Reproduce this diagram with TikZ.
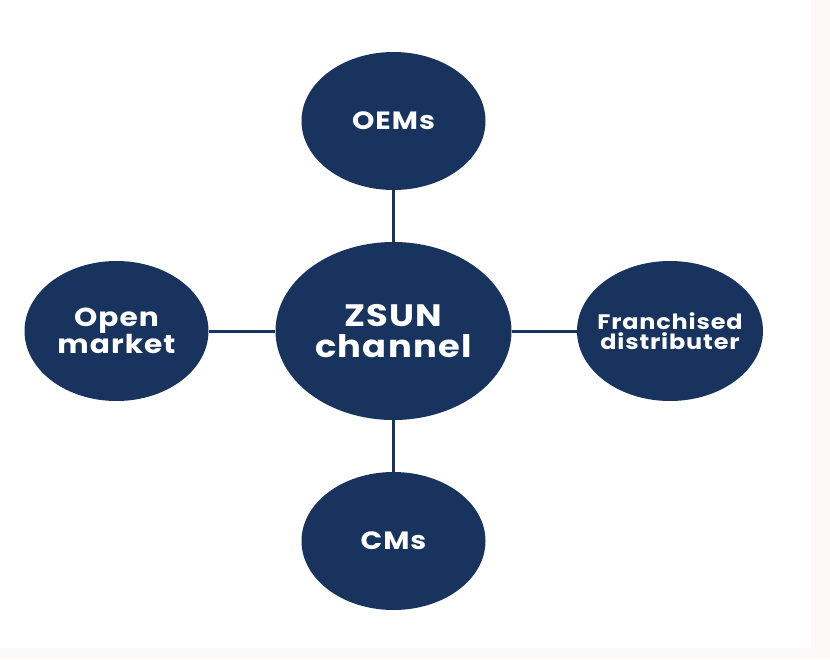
\documentclass[tikz,border=0pt]{standalone}
\usepackage{fontspec}
\setmainfont{Poppins}[FakeStretch=1.14, LetterSpace=4]
\usetikzlibrary{shapes.geometric}
\definecolor{navy}{RGB}{23,51,94}
\definecolor{edgegray}{RGB}{251,250,249}
\begin{document}
\begin{tikzpicture}[x=1pt,y=-1pt,
  blob/.style={ellipse, fill=navy, draw=none, inner sep=0pt, text=white, align=center},
  link/.style={draw=navy, line width=3pt}]
\useasboundingbox (0,0) rectangle (830,659);
\fill[white] (0,0) rectangle (830,659);
\fill[edgegray] (811,0) rectangle (830,659);
\fill[edgegray] (0,648) rectangle (830,659);
\node[blob, minimum width=236pt, minimum height=178pt, inner xsep=-10pt, font=\fontsize{31}{31}\selectfont\bfseries] (c) at (393.5,331) {ZSUN\\channel};
\node[blob, minimum width=184pt, minimum height=138pt, font=\fontsize{25}{26}\selectfont\bfseries] (oem) at (393.5,121) {OEMs};
\node[blob, minimum width=184pt, minimum height=138pt, font=\fontsize{25}{26}\selectfont\bfseries] (cm) at (393.5,541) {CMs};
\node[blob, minimum width=184pt, minimum height=140pt, inner xsep=-10pt, font=\fontsize{26}{22}\selectfont\bfseries] (om) at (116.5,331) {Open\\market};
\node[blob, minimum width=186pt, minimum height=140pt, inner xsep=-20pt, font=\fontsize{21}{20}\selectfont\bfseries] (fd) at (670,331) {Franchised\\distributer};
\draw[link] (oem) -- (c);
\draw[link] (c) -- (cm);
\draw[link] (om) -- (c);
\draw[link] (c) -- (fd);
\end{tikzpicture}
\end{document}
